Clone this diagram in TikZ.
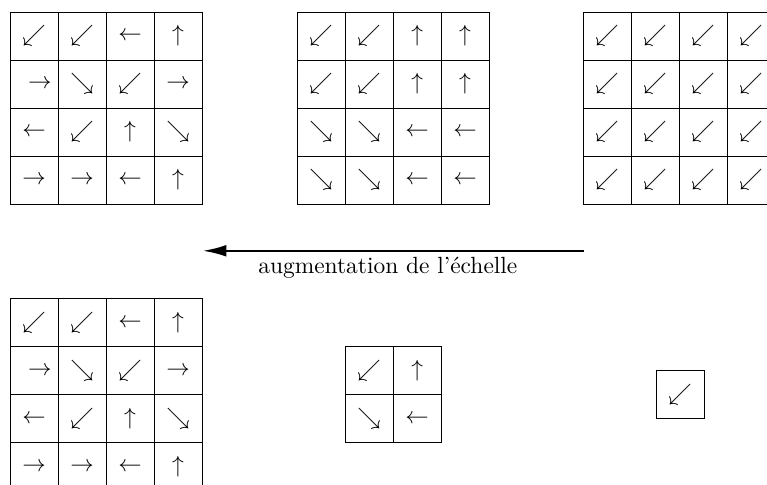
\documentclass[tikz,border=0pt]{standalone}
\usepackage{fontspec}
\usetikzlibrary{arrows.meta}

% une grille de fleches : nom, bord gauche, bord haut, lignes
\newcommand{\grille}[4]{%
  \foreach \lst [count=\r] in {#4} {
    \foreach \a [count=\c] in \lst {
      \node[cell] (#1-\r-\c) at (#2+\c-0.5,#3-\r+0.5) {$\a$};
    }
  }
}

\begin{document}
\begin{tikzpicture}[x=0.72cm,y=0.72cm,
    cell/.style={draw,minimum size=0.72cm,inner sep=0pt,outer sep=0pt}]
            \useasboundingbox (0,0) rectangle (15.98,10.10);
            % en haut
            \grille{a}{0.21}{9.85}{{\swarrow,\swarrow,\leftarrow,\uparrow},
              {\enskip\rightarrow,\searrow,\swarrow,\rightarrow},
              {\leftarrow,\swarrow,\uparrow,\searrow},
              {\rightarrow,\rightarrow,\leftarrow,\uparrow}}
            \grille{b}{6.19}{9.85}{{\swarrow,\swarrow,\uparrow,\uparrow},
              {\swarrow,\swarrow,\uparrow,\uparrow},
              {\searrow,\searrow,\leftarrow,\leftarrow},
              {\searrow,\searrow,\leftarrow,\leftarrow}}
            \grille{c}{12.15}{9.85}{{\swarrow,\swarrow,\swarrow,\swarrow},
              {\swarrow,\swarrow,\swarrow,\swarrow},
              {\swarrow,\swarrow,\swarrow,\swarrow},
              {\swarrow,\swarrow,\swarrow,\swarrow}}
            % la fleche
            \coordinate (debut) at (12.17,4.875);
            \coordinate (fin) at (4.23,4.875);
            \draw[thick,-{Latex[length=10pt,width=5pt]}] (debut) -- (fin);
            \node (echelle) at (8.08,4.53) {augmentation de l'échelle};
            % en bas
            \grille{d}{0.21}{3.875}{{\swarrow,\swarrow,\leftarrow,\uparrow},
              {\enskip\rightarrow,\searrow,\swarrow,\rightarrow},
              {\leftarrow,\swarrow,\uparrow,\searrow},
              {\rightarrow,\rightarrow,\leftarrow,\uparrow}}
            \grille{e}{7.19}{2.875}{{\swarrow,\uparrow},
              {\searrow,\leftarrow}}
            \grille{f}{13.67}{2.375}{{\swarrow}}
        \end{tikzpicture}
\end{document}
